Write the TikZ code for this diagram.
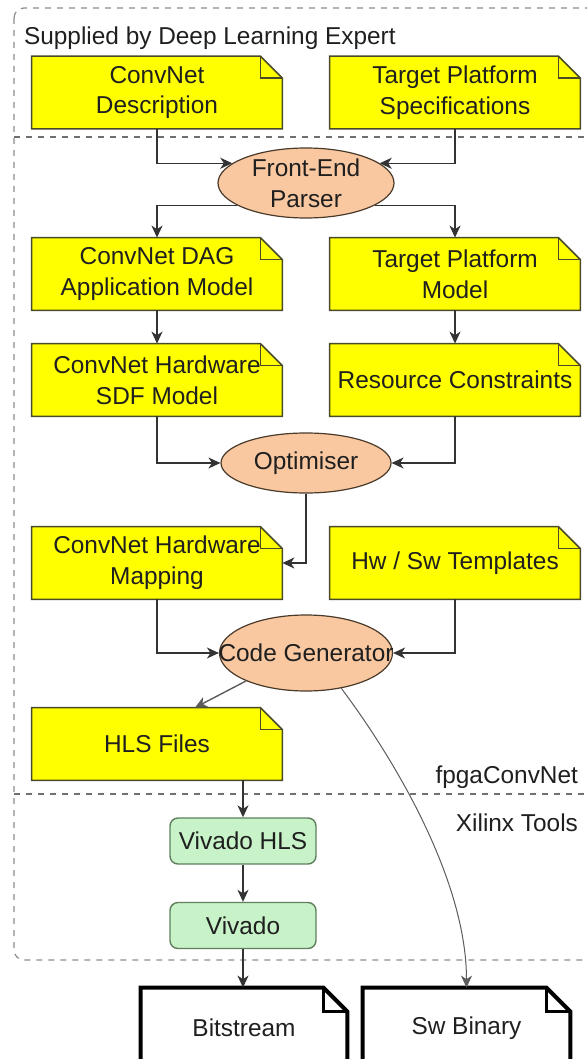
\documentclass[tikz,border=0pt]{standalone}
\usepackage{fontspec}
\setmainfont{Liberation Sans}
\usetikzlibrary{shapes.geometric,arrows.meta,backgrounds}

\definecolor{docyellow}{HTML}{FFFF00}
\definecolor{docline}{HTML}{4A4A28}
\definecolor{ellfill}{HTML}{F9C8A0}
\definecolor{ellline}{HTML}{4A3A2A}
\definecolor{toolfill}{HTML}{C8F2C8}
\definecolor{toolline}{HTML}{5F7F5F}
\definecolor{arrowgray}{HTML}{333333}
\definecolor{dashgray}{HTML}{8C8C8C}

\begin{document}
\begin{tikzpicture}[x=0.5pt, y=-0.5pt,
    font=\fontsize{12.2}{15.4}\selectfont, text=black!88,
    docbox/.style={minimum width=125pt, minimum height=36pt, align=center, inner sep=1pt},
    outbox/.style={minimum height=40pt, align=center, inner sep=1pt},
    ellnode/.style={ellipse, draw=ellline, fill=ellfill, line width=0.6pt, align=center, inner sep=0pt},
    toolbox/.style={rectangle, rounded corners=4pt, draw=toolline, fill=toolfill, line width=0.7pt,
      minimum width=73pt, minimum height=23pt},
    seta/.style={draw=arrowgray, line width=0.7pt, -{Stealth[length=6pt,width=5.5pt,inset=1.8pt]}},
  ]
  % Moldura da figura
  \path[use as bounding box, clip] (0,0) rectangle (587,1059);

  % Regiões tracejadas
  \draw[dashgray, dashed, line width=0.6pt, rounded corners=5pt] (14,8) rectangle (640,960);
  \draw[dashgray!80!black, dashed, line width=0.8pt] (14,137) -- (587,137);
  \draw[dashgray!80!black, dashed, line width=0.8pt] (14,794) -- (587,794);

  % Rótulos das regiões
  \node[anchor=west] (lblexpert) at (17,38) {Supplied by Deep Learning Expert};
  \node[anchor=east] (lblfpga) at (585,777) {fpgaConvNet};
  \node[anchor=east] (lblxilinx) at (585,823) {Xilinx Tools};

  % Documentos (caixas amarelas)
  \node[docbox] (desc) at (157,92.5) {ConvNet\\Description};
  \node[docbox] (spec) at (455,92.5) {Target Platform\\Specifications};
  \node[docbox] (dag) at (157,274) {ConvNet DAG\\Application Model};
  \node[docbox] (model) at (455,274) {Target Platform\\Model};
  \node[docbox] (sdf) at (157,380) {ConvNet Hardware\\SDF Model};
  \node[docbox] (res) at (455,380) {Resource Constraints};
  \node[docbox] (mapping) at (157,563) {ConvNet Hardware\\Mapping};
  \node[docbox] (templ) at (455,563) {Hw / Sw Templates};
  \node[docbox] (hls) at (157,744) {HLS Files};

  % Processos (elipses)
  \node[ellnode, minimum width=88pt, minimum height=35pt] (parser) at (306,183) {Front-End\\Parser};
  \node[ellnode, minimum width=85pt, minimum height=30pt] (opt) at (306,463) {Optimiser};
  \node[ellnode, minimum width=86.5pt, minimum height=38pt, inner xsep=-14pt] (codegen) at (306,653) {Code Generator};

  % Ferramentas Xilinx
  \node[toolbox] (vhls) at (243,841) {Vivado HLS};
  \node[toolbox] (viv) at (243,925.5) {Vivado};

  % Saídas
  \node[outbox, minimum width=103pt] (bits) at (244,1028) {Bitstream};
  \node[outbox, minimum width=103.5pt] (swbin) at (466.5,1028) {Sw Binary};

  % Contornos dos documentos com canto dobrado
  \begin{scope}[on background layer]
    \foreach \n in {desc,spec,dag,model,sdf,res,mapping,templ,hls} {
      \draw[docline, fill=docyellow, line width=0.8pt]
        (\n.north west) -- ([xshift=-11pt]\n.north east) -- ([yshift=-11pt]\n.north east)
        -- (\n.south east) -- (\n.south west) -- cycle;
      \draw[docline, line width=0.6pt] ([xshift=-11pt]\n.north east) |- ([yshift=-11pt]\n.north east);
    }
    \foreach \n in {bits,swbin} {
      \draw[black, fill=white, line width=2pt, line join=miter]
        (\n.north west) -- ([xshift=-12pt]\n.north east) -- ([yshift=-12pt]\n.north east)
        -- (\n.south east) -- (\n.south west) -- cycle;
      \draw[black, line width=1.6pt] ([xshift=-12pt]\n.north east) |- ([yshift=-12pt]\n.north east);
    }
  \end{scope}

  % Ligações
  \draw[seta] (desc.south) |- (parser.165);
  \draw[seta] (spec.south) |- (parser.15);
  \draw[seta] (parser.198) -| (dag.north);
  \draw[seta] (parser.342) -| (model.north);
  \draw[seta] (dag) -- (sdf);
  \draw[seta] (model) -- (res);
  \draw[seta] (sdf.south) |- (opt.west);
  \draw[seta] (res.south) |- (opt.east);
  \draw[seta] (opt.south) |- (mapping.east);
  \draw[seta] (mapping.south) |- (codegen.west);
  \draw[seta] (templ.south) |- (codegen.east);
  \draw[seta, draw=arrowgray!80] (codegen.205) -- ([xshift=19pt]hls.north);
  \draw[seta, draw=arrowgray!80, line width=0.5pt] (codegen.315) .. controls +(54,72) and +(0,-107) .. (swbin.north);
  \draw[seta] (hls.south -| vhls.north) -- (vhls.north);
  \draw[seta] (vhls) -- (viv);
  \draw[seta] (viv.south) -- (viv.south |- bits.north);
\end{tikzpicture}
\end{document}
